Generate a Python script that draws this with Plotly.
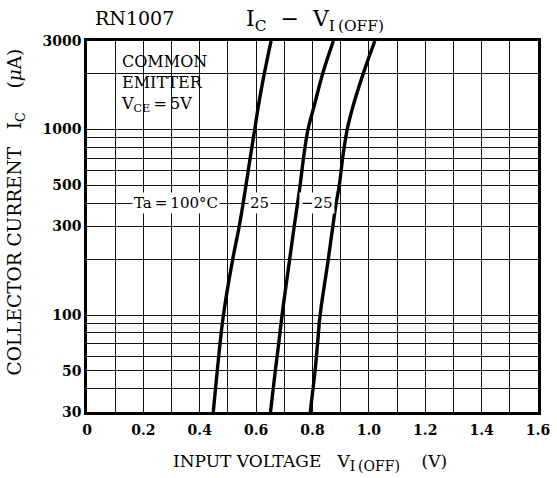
import math
import plotly.graph_objects as go

# ---- data ----
ic_levels = [30, 50, 70, 100, 200, 300, 400, 500, 720, 1000, 1340, 2000, 3000]                 # uA
v_ta100 = [0.448, 0.462, 0.472, 0.484, 0.517, 0.540, 0.554, 0.564, 0.580, 0.595, 0.608, 0.629, 0.653]  # 100 C
v_ta25 = [0.651, 0.668, 0.680, 0.692, 0.719, 0.735, 0.747, 0.756, 0.769, 0.784, 0.806, 0.836, 0.874]   # 25 C
v_tam25 = [0.792, 0.809, 0.818, 0.827, 0.856, 0.872, 0.884, 0.895, 0.908, 0.923, 0.944, 0.980, 1.021]  # -25 C

x_major = [0, 0.2, 0.4, 0.6, 0.8, 1.0, 1.2, 1.4, 1.6]
x_labels = ["0", "0.2", "0.4", "0.6", "0.8", "1.0", "1.2", "1.4", "1.6"]
x_minor = [0.1, 0.3, 0.5, 0.7, 0.9, 1.1, 1.3, 1.5]
y_major = [30, 50, 100, 300, 500, 1000, 3000]
y_labels = ["30", "50", "100", "300", "500", "1000", "3000"]
y_minor = [40, 60, 70, 80, 90, 200, 400, 600, 700, 800, 900, 2000]

curve_labels = ["Ta\u2009=\u2009100°C", "25", "\u221225"]
curve_label_x = [0.316, 0.612, 0.815]
label_level = 400

FONT = "DejaVu Serif"
GRID = "#111111"
NB = "\u00a0"

fig = go.Figure()
for xs in (v_ta100, v_ta25, v_tam25):
    fig.add_trace(go.Scatter(x=xs, y=ic_levels, mode="lines",
                             line=dict(color="black", width=3.4, shape="spline", smoothing=1.0),
                             showlegend=False, hoverinfo="skip"))

tickfont = dict(family=FONT, size=14, color="black", weight="bold")
fig.update_xaxes(range=[0, 1.6], tickmode="array", tickvals=x_major, ticktext=x_labels,
                 showgrid=True, gridcolor=GRID, gridwidth=1.3, zeroline=False, ticks="",
                 minor=dict(tickmode="array", tickvals=x_minor, showgrid=True, gridcolor=GRID,
                            gridwidth=1.3, ticks=""),
                 showline=True, linecolor="black", linewidth=2.5, mirror=True, tickfont=tickfont,
                 automargin=False, ticklabelstandoff=3)
fig.update_yaxes(type="log", range=[math.log10(30), math.log10(3000)], tickmode="array",
                 tickvals=y_major, ticktext=y_labels, showgrid=True, gridcolor=GRID, gridwidth=1.3,
                 minor=dict(tickmode="array", tickvals=y_minor, showgrid=True, gridcolor=GRID,
                            gridwidth=1.3, ticks=""),
                 zeroline=False, ticks="", showline=True, linecolor="black", linewidth=2.5,
                 mirror=True, tickfont=tickfont, automargin=False)

shapes = [
    # white box behind "COMMON EMITTER" note
    dict(type="rect", xref="x", yref="y", x0=0.004, x1=0.496, y0=3.002, y1=math.log10(3000) - 0.004,
         fillcolor="white", line_width=0, layer="between"),
    # white band behind the temperature labels
    dict(type="rect", xref="x", yref="y", x0=0.004, x1=0.896, y0=math.log10(335), y1=math.log10(468),
         fillcolor="white", line_width=0, layer="between"),
    # leader line at the label level
    dict(type="line", xref="x", yref="y", x0=0, x1=0.9, y0=math.log10(label_level), y1=math.log10(label_level),
         line=dict(color=GRID, width=1.3), layer="between"),
]

ann = []
for txt, xc in zip(curve_labels, curve_label_x):
    ann.append(dict(x=xc, y=math.log10(label_level), xref="x", yref="y", text=txt, showarrow=False,
                    xanchor="center", yanchor="middle",
                    bgcolor="white", borderpad=1, font=dict(family=FONT, size=15, color="black")))

ann.append(dict(x=0.112, y=0.975, xref="x", yref="paper", xanchor="left", yanchor="top", align="left",
                text="COMMON<br>EMITTER<br>V<sub>CE</sub>\u2009=\u20095V", showarrow=False,
                font=dict(family=FONT, size=16, color="black")))

ann.append(dict(x=0.105, y=1.062, xref="paper", yref="paper", text="RN1007", showarrow=False,
                xanchor="center", yanchor="middle",
                font=dict(family=FONT, size=19, color="black")))
ann.append(dict(x=0.505, y=1.055, xref="paper", yref="paper",
                text="I<sub>C</sub>" + NB * 2 + "\u2212" + NB * 2 + "V<sub>I\u2009(OFF)</sub>", showarrow=False,
                xanchor="center", yanchor="middle",
                font=dict(family=FONT, size=22, color="black")))
ann.append(dict(x=0.495, y=-0.137, xref="paper", yref="paper",
                text="INPUT VOLTAGE" + NB * 3 + "V<sub><span style='font-size:14px'>I\u2009(OFF)</span></sub>"
                     + NB * 4 + "(V)", showarrow=False,
                xanchor="center", yanchor="middle",
                font=dict(family=FONT, size=17, color="black")))
ann.append(dict(x=-0.158, y=0.54, xref="paper", yref="paper", textangle=-90,
                text="COLLECTOR CURRENT" + NB * 3 + "I<sub>C</sub>" + NB * 4 + "(<i>μ</i>A)", showarrow=False,
                xanchor="center", yanchor="middle",
                font=dict(family=FONT, size=18.5, color="black")))

fig.update_layout(width=557, height=478, margin=dict(l=87, r=19, t=41, b=66),
                  paper_bgcolor="white", plot_bgcolor="white", shapes=shapes, annotations=ann,
                  font=dict(family=FONT, color="black"))

fig.write_html("out.html", config={"displayModeBar": False},
               post_script="document.body.style.margin='0';document.body.style.overflow='hidden';")
